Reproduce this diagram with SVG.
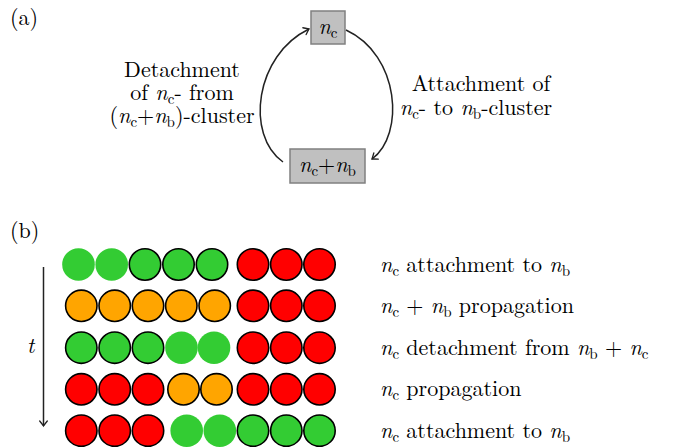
<svg xmlns="http://www.w3.org/2000/svg" width="673" height="447" viewBox="0 0 673 447">
<defs>
<marker id="ah" viewBox="-6 -5 8 10" markerWidth="8" markerHeight="10" refX="0" refY="0" orient="auto" markerUnits="userSpaceOnUse">
<path d="M-5,-3.8 Q-1.5,-1 0,0 Q-1.5,1 -5,3.8" fill="none" stroke="#222" stroke-width="1.3" stroke-linecap="round"/>
</marker>
</defs>
<rect width="673" height="447" fill="#fff"/>
<text font-family="Latin Modern Roman" font-size="22" x="10" y="25">(a)</text>
<text font-family="Latin Modern Roman" font-size="22" x="10" y="238">(b)</text>

<g id="node-nc">
<rect fill="#c0c0c0" stroke="#808080" stroke-width="1.5" x="311" y="11" width="34" height="33"/>
<text font-family="Latin Modern Roman" font-size="22" x="328" y="34" text-anchor="middle"><tspan font-style="italic">n</tspan><tspan font-size="15" dy="3.5">c</tspan></text>
</g>
<g id="node-ncnb">
<rect fill="#c0c0c0" stroke="#808080" stroke-width="1.5" x="290" y="149" width="75" height="34"/>
<text font-family="Latin Modern Roman" font-size="22" x="327.5" y="172" text-anchor="middle"><tspan font-style="italic">n</tspan><tspan font-size="15" dy="3.5">c</tspan><tspan dy="-3.5">+</tspan><tspan font-style="italic">n</tspan><tspan font-size="15" dy="3.5">b</tspan></text>
</g>

<g id="connectors" fill="none" stroke="#222" stroke-width="1.5">
<path d="M283,162 C245,135 255,55 309,29" marker-end="url(#ah)"/>
<path d="M346,30 C400,55 405,135 372,159" marker-end="url(#ah)"/>
<line x1="43.5" y1="267" x2="43.5" y2="426" marker-end="url(#ah)"/>
</g>

<g id="label-detach">
<text font-family="Latin Modern Roman" font-size="22" x="182" y="77" text-anchor="middle">Detachment</text>
<text font-family="Latin Modern Roman" font-size="22" x="182" y="100" text-anchor="middle">of <tspan font-style="italic">n</tspan><tspan font-size="15" dy="3.5">c</tspan><tspan dy="-3.5">- from</tspan></text>
<text font-family="Latin Modern Roman" font-size="22" x="182" y="123" text-anchor="middle">(<tspan font-style="italic">n</tspan><tspan font-size="15" dy="3.5">c</tspan><tspan dy="-3.5">+</tspan><tspan font-style="italic">n</tspan><tspan font-size="15" dy="3.5">b</tspan><tspan dy="-3.5">)-cluster</tspan></text>
</g>
<g id="label-attach">
<text font-family="Latin Modern Roman" font-size="22" x="481" y="91" text-anchor="middle">Attachment of</text>
<text font-family="Latin Modern Roman" font-size="22" x="476" y="115" text-anchor="middle"><tspan font-style="italic">n</tspan><tspan font-size="15" dy="3.5">c</tspan><tspan dy="-3.5">- to </tspan><tspan font-style="italic">n</tspan><tspan font-size="15" dy="3.5">b</tspan><tspan dy="-3.5">-cluster</tspan></text>
</g>

<text font-family="Latin Modern Roman" font-size="22" font-style="italic" x="27" y="353">t</text>

<g id="row-labels">
<text font-family="Latin Modern Roman" font-size="22" x="380" y="272"><tspan font-style="italic">n</tspan><tspan font-size="15" dy="3.5">c</tspan><tspan dy="-3.5"> attachment to </tspan><tspan font-style="italic">n</tspan><tspan font-size="15" dy="3.5">b</tspan></text>
<text font-family="Latin Modern Roman" font-size="22" x="380" y="313"><tspan font-style="italic">n</tspan><tspan font-size="15" dy="3.5">c</tspan><tspan dy="-3.5"> + </tspan><tspan font-style="italic">n</tspan><tspan font-size="15" dy="3.5">b</tspan><tspan dy="-3.5"> propagation</tspan></text>
<text font-family="Latin Modern Roman" font-size="22" x="380" y="355"><tspan font-style="italic">n</tspan><tspan font-size="15" dy="3.5">c</tspan><tspan dy="-3.5"> detachment from </tspan><tspan font-style="italic">n</tspan><tspan font-size="15" dy="3.5">b</tspan><tspan dy="-3.5"> + </tspan><tspan font-style="italic">n</tspan><tspan font-size="15" dy="3.5">c</tspan></text>
<text font-family="Latin Modern Roman" font-size="22" x="380" y="396"><tspan font-style="italic">n</tspan><tspan font-size="15" dy="3.5">c</tspan><tspan dy="-3.5"> propagation</tspan></text>
<text font-family="Latin Modern Roman" font-size="22" x="380" y="438"><tspan font-style="italic">n</tspan><tspan font-size="15" dy="3.5">c</tspan><tspan dy="-3.5"> attachment to </tspan><tspan font-style="italic">n</tspan><tspan font-size="15" dy="3.5">b</tspan></text>
</g>

<g id="row1" stroke="#000" stroke-width="1.6">
<circle fill="#33cc33" stroke="none" cx="78.5" cy="264.5" r="16.3"/>
<circle fill="#33cc33" stroke="none" cx="111.7" cy="264.5" r="16.3"/>
<circle fill="#33cc33" cx="145" cy="264.5" r="15.7"/>
<circle fill="#33cc33" cx="178.5" cy="264.5" r="15.7"/>
<circle fill="#33cc33" cx="212" cy="264.5" r="15.7"/>
<circle fill="#ff0000" cx="253" cy="264.5" r="15.7"/>
<circle fill="#ff0000" cx="286.3" cy="264.5" r="15.7"/>
<circle fill="#ff0000" cx="319.5" cy="264.5" r="15.7"/>
</g>
<g id="row2" stroke="#000" stroke-width="1.6">
<circle fill="#ffa500" cx="81.3" cy="305.8" r="15.7"/>
<circle fill="#ffa500" cx="114.7" cy="305.8" r="15.7"/>
<circle fill="#ffa500" cx="148" cy="305.8" r="15.7"/>
<circle fill="#ffa500" cx="181.3" cy="305.8" r="15.7"/>
<circle fill="#ffa500" cx="214.7" cy="305.8" r="15.7"/>
<circle fill="#ff0000" cx="253" cy="305.8" r="15.7"/>
<circle fill="#ff0000" cx="286.3" cy="305.8" r="15.7"/>
<circle fill="#ff0000" cx="319.5" cy="305.8" r="15.7"/>
</g>
<g id="row3" stroke="#000" stroke-width="1.6">
<circle fill="#33cc33" cx="81.3" cy="347.7" r="15.7"/>
<circle fill="#33cc33" cx="114.7" cy="347.7" r="15.7"/>
<circle fill="#33cc33" cx="148" cy="347.7" r="15.7"/>
<circle fill="#33cc33" stroke="none" cx="181.5" cy="347.7" r="16.3"/>
<circle fill="#33cc33" stroke="none" cx="214" cy="347.7" r="16.3"/>
<circle fill="#ff0000" cx="253" cy="347.7" r="15.7"/>
<circle fill="#ff0000" cx="286.3" cy="347.7" r="15.7"/>
<circle fill="#ff0000" cx="319.5" cy="347.7" r="15.7"/>
</g>
<g id="row4" stroke="#000" stroke-width="1.6">
<circle fill="#ff0000" cx="81.3" cy="389.3" r="15.7"/>
<circle fill="#ff0000" cx="114.7" cy="389.3" r="15.7"/>
<circle fill="#ff0000" cx="148" cy="389.3" r="15.7"/>
<circle fill="#ffa500" cx="183.5" cy="389.3" r="15.7"/>
<circle fill="#ffa500" cx="216.5" cy="389.3" r="15.7"/>
<circle fill="#ff0000" cx="253" cy="389.3" r="15.7"/>
<circle fill="#ff0000" cx="286.3" cy="389.3" r="15.7"/>
<circle fill="#ff0000" cx="319.5" cy="389.3" r="15.7"/>
</g>
<g id="row5" stroke="#000" stroke-width="1.6">
<circle fill="#ff0000" cx="81.3" cy="430.7" r="15.7"/>
<circle fill="#ff0000" cx="114.7" cy="430.7" r="15.7"/>
<circle fill="#ff0000" cx="148" cy="430.7" r="15.7"/>
<circle fill="#33cc33" stroke="none" cx="186.7" cy="430.7" r="16.3"/>
<circle fill="#33cc33" stroke="none" cx="219.8" cy="430.7" r="16.3"/>
<circle fill="#33cc33" cx="253" cy="430.7" r="15.7"/>
<circle fill="#33cc33" cx="286.3" cy="430.7" r="15.7"/>
<circle fill="#33cc33" cx="319.5" cy="430.7" r="15.7"/>
</g>
</svg>
